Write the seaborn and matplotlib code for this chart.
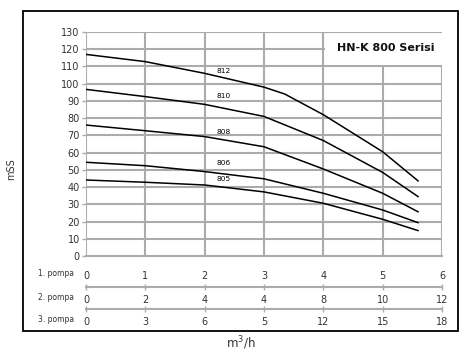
import matplotlib
matplotlib.use("Agg")
import matplotlib.pyplot as plt
import seaborn as sns
import pandas as pd
from matplotlib.patches import Rectangle

# ---- data ----
x_main = [0, 1, 2, 3, 4, 5, 5.6]
x_812 = [0, 1, 2, 3, 3.35, 4, 5, 5.6]
h_812 = [117, 112.8, 106, 98, 94, 82, 60.5, 43.5]
h_810 = [96.7, 92.5, 88, 81, 67, 48.5, 34.4]
h_808 = [76, 72.7, 69.3, 63.4, 50.5, 36.4, 25.6]
h_806 = [54.4, 52.4, 49, 44.8, 36.4, 26.7, 19.3]
h_805 = [44.1, 42.8, 41.2, 37.2, 30.6, 21.3, 14.7]
series_labels = ["812", "810", "808", "806", "805"]
label_pos = [(2.2, 107.5), (2.2, 93), (2.2, 72), (2.2, 54), (2.2, 44.5)]

pompa1_ticks = ["0", "1", "2", "3", "4", "5", "6"]
pompa2_ticks = ["0", "2", "4", "4", "8", "10", "12"]
pompa3_ticks = ["0", "3", "6", "5", "12", "15", "18"]
row_names = ["1. pompa", "2. pompa", "3. pompa"]
y_ticks = list(range(0, 131, 10))

rows = []
for x, y, s in [(x_812, h_812, "812"), (x_main, h_810, "810"), (x_main, h_808, "808"),
                (x_main, h_806, "806"), (x_main, h_805, "805")]:
    for a, b in zip(x, y):
        rows.append({"q": a, "h": b, "model": s})
df = pd.DataFrame(rows)

sns.set_style("white")
plt.rcParams["font.family"] = ["DejaVu Sans"]

W, H = 474, 353
fig = plt.figure(figsize=(W / 100, H / 100), dpi=100)

def px(x0, y0, x1, y1):
    return [x0 / W, 1 - y1 / H, (x1 - x0) / W, (y1 - y0) / H]

ax = fig.add_axes(px(86, 32, 442, 256))
grid_c = "#ababab"
txt_c = "#333333"

for v in y_ticks[1:]:
    ax.axhline(v, color=grid_c, lw=1.5, zorder=0.5)
for v in range(0, 7):
    ax.axvline(v, color=grid_c, lw=1.5, zorder=0.5)
ax.add_patch(Rectangle((4.03, 110.8), 1.97, 19.2, facecolor="white", edgecolor="none", zorder=1))
ax.plot([4, 6], [130, 130], color=grid_c, lw=1.5, zorder=1.1)

sns.lineplot(data=df, x="q", y="h", hue="model", palette=["black"] * 5, legend=False,
             lw=1.1, ax=ax, zorder=3, sort=False, estimator=None)

for lab, (lx, ly) in zip(series_labels, label_pos):
    ax.text(lx, ly, lab, fontsize=5.3, color="black", ha="left", va="center", zorder=4)

ax.text(5.05, 120.5, "HN-K 800 Serisi", fontsize=8, fontweight="bold", ha="center", va="center",
        color="#111111", zorder=4)

ax.set_xlim(0, 6)
ax.set_ylim(0, 130)
ax.set_yticks(y_ticks)
ax.set_xticks(range(7))
ax.set_xticklabels(pompa1_ticks)
ax.set_xlabel("")
ax.set_ylabel("")
for s in ["top", "right", "left"]:
    ax.spines[s].set_visible(False)
ax.spines["bottom"].set_color(grid_c)
ax.spines["bottom"].set_linewidth(1.5)
ax.tick_params(axis="x", direction="out", length=3, width=1, color=grid_c, pad=8,
               labelsize=7, labelcolor=txt_c)
ax.tick_params(axis="y", direction="out", length=3, width=1, color=grid_c, pad=1.5,
               labelsize=7, labelcolor=txt_c, left=True)

for loc, labels in [(-31 / 224, pompa2_ticks), (-53 / 224, pompa3_ticks)]:
    sec = ax.secondary_xaxis(loc)
    sec.set_xticks(range(7))
    sec.set_xticklabels(labels)
    sec.spines["bottom"].set_color(grid_c)
    sec.spines["bottom"].set_linewidth(1.5)
    sec.tick_params(axis="x", direction="inout", length=5, width=1, color=grid_c, pad=3.5,
                    labelsize=7, labelcolor=txt_c)

for name, yy in zip(row_names, [273, 297, 320]):
    fig.text(56 / W, 1 - yy / H, name, fontsize=5.5, ha="center", va="center", color=txt_c)

fig.text(241 / W, 1 - 343 / H, "m$^3$/h", fontsize=8.5, ha="center", va="center", color=txt_c)
fig.text(11 / W, 1 - 169 / H, "mSS", fontsize=7, ha="center", va="center", rotation=90, color=txt_c)

fig.patches.append(Rectangle((23 / W, 1 - 331 / H), 435 / W, 320 / H, transform=fig.transFigure,
                             facecolor="none", edgecolor="black", lw=1.3, figure=fig))

fig.savefig("out.png", dpi=100)
